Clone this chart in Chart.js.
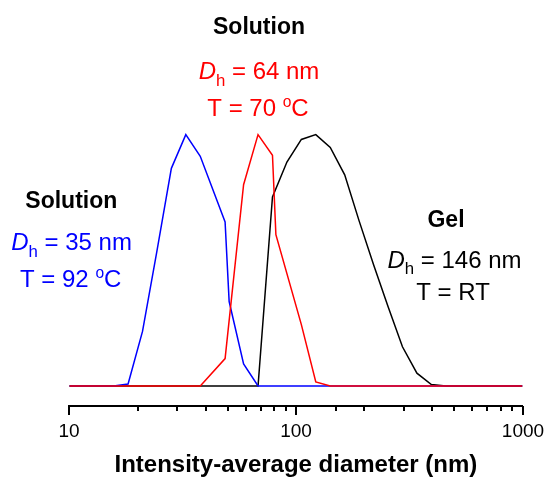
<!DOCTYPE html>
<html><head><meta charset="utf-8">
<script src="https://cdn.jsdelivr.net/npm/chart.js@4.4.1/dist/chart.umd.min.js"></script>
<style>html,body{margin:0;padding:0;background:#fff;}canvas{display:block;}</style>
</head><body>
<canvas id="c" width="548" height="477"></canvas>
<script>
// ---- data (diameter in nm, intensity normalised to peak = 100) ----
const blueSize = [10, 15.69, 18.17, 21.04, 24.36, 28.21, 32.67, 37.84, 48.7, 50.75, 58.77, 68.06, 1000];
const blueIntensity = [0, 0, 0.8, 21.7, 53.7, 86.6, 100, 91.4, 65.3, 33.6, 8.8, 0, 0];

const redSize = [10, 37.84, 48.7, 58.77, 68.06, 78.82, 81.6, 105.7, 122.4, 141.8, 1000];
const redIntensity = [0, 0, 10.9, 80.1, 100, 91.8, 60.2, 24.4, 1.6, 0, 0];

const blackSize = [10, 68.06, 78.82, 91.28, 105.7, 122.4, 141.8, 164.2, 190.1, 220.2, 255.0, 295.3, 342.0, 396.1, 458.7, 1000];
const blackIntensity = [0, 0, 75.2, 89.1, 98.1, 100, 94.9, 84.0, 65.7, 48.2, 31.6, 15.6, 5.1, 0.6, 0, 0];

const tickLabels = ['10', '100', '1000'];
const axisTitle = 'Intensity-average diameter (nm)';

const FONT = '"Liberation Sans", Arial, Helvetica, sans-serif';

function pts(xs, ys) { return xs.map((x, i) => ({x: x, y: ys[i]})); }

function drawRich(ctx, segs, cx, by, size, color) {
  let total = 0;
  const parts = segs.map(s => {
    const fs = size * (s.s || 1);
    const font = (s.st || 'normal') + ' ' + fs + 'px ' + FONT;
    ctx.font = font;
    const w = ctx.measureText(s.t).width;
    total += w;
    return {t: s.t, font: font, w: w, dy: (s.dy || 0) * size};
  });
  let x = cx - total / 2;
  ctx.fillStyle = color;
  ctx.textAlign = 'left';
  ctx.textBaseline = 'alphabetic';
  parts.forEach(p => { ctx.font = p.font; ctx.fillText(p.t, x, by + p.dy); x += p.w; });
}

const annotations = [
  {segs: [{t: 'Solution', st: 'bold'}], x: 259, y: 34, size: 23, color: '#000'},
  {segs: [{t: 'D', st: 'italic'}, {t: 'h', s: 0.7, dy: 0.28}, {t: ' = 64 nm'}], x: 259, y: 79, size: 24, color: '#ff0000'},
  {segs: [{t: 'T = 70 '}, {t: 'o', s: 0.65, dy: -0.38}, {t: 'C'}], x: 258, y: 116, size: 24, color: '#ff0000'},
  {segs: [{t: 'Solution', st: 'bold'}], x: 71.3, y: 208, size: 23, color: '#000'},
  {segs: [{t: 'D', st: 'italic'}, {t: 'h', s: 0.7, dy: 0.28}, {t: ' = 35 nm'}], x: 71.6, y: 250, size: 24, color: '#0000ff'},
  {segs: [{t: 'T = 92 '}, {t: 'o', s: 0.65, dy: -0.38}, {t: 'C'}], x: 70.7, y: 286.7, size: 24, color: '#0000ff'},
  {segs: [{t: 'Gel', st: 'bold'}], x: 446, y: 227.3, size: 23, color: '#000'},
  {segs: [{t: 'D', st: 'italic'}, {t: 'h', s: 0.7, dy: 0.28}, {t: ' = 146 nm'}], x: 454.5, y: 267.5, size: 24, color: '#000'},
  {segs: [{t: 'T = RT'}], x: 453, y: 300, size: 24, color: '#000'}
];

const decorPlugin = {
  id: 'decor',
  afterDraw(chart) {
    const ctx = chart.ctx;
    const xs = chart.scales.x;
    const axisY = xs.top;
    ctx.save();
    ctx.strokeStyle = '#000';
    xs.ticks.forEach(t => {
      const v = t.value;
      const lg = Math.log10(v);
      const major = Math.abs(lg - Math.round(lg)) < 1e-9;
      const px = Math.round(xs.getPixelForValue(v));
      ctx.lineWidth = 2;
      ctx.beginPath();
      ctx.moveTo(px, axisY);
      ctx.lineTo(px, axisY + (major ? 9 : 5));
      ctx.stroke();
      if (major) {
        const lbl = tickLabels.find(l => Number(l) === Math.round(v));
        if (lbl) {
          ctx.font = '19px ' + FONT;
          ctx.fillStyle = '#000';
          ctx.textAlign = 'center';
          ctx.textBaseline = 'alphabetic';
          ctx.fillText(lbl, px, 437);
        }
      }
    });
    ctx.font = 'bold 24px ' + FONT;
    ctx.fillStyle = '#000';
    ctx.textAlign = 'center';
    ctx.fillText(axisTitle, (xs.left + xs.right) / 2, 472);
    annotations.forEach(a => drawRich(ctx, a.segs, a.x, a.y, a.size, a.color));
    ctx.restore();
  }
};

const common = {pointRadius: 0, borderWidth: 1.5, tension: 0, fill: false};

new Chart(document.getElementById('c'), {
  type: 'line',
  data: {
    datasets: [
      Object.assign({label: 'Solution 70 °C', data: pts(redSize, redIntensity), borderColor: '#ff0000'}, common),
      Object.assign({label: 'Solution 92 °C', data: pts(blueSize, blueIntensity), borderColor: '#0000ff'}, common),
      Object.assign({label: 'Gel RT', data: pts(blackSize, blackIntensity), borderColor: '#000000'}, common)
    ]
  },
  options: {
    responsive: false,
    animation: false,
    devicePixelRatio: 1,
    layout: {padding: {left: 69.3, right: 25.5, top: 124.6, bottom: 0}},
    plugins: {legend: {display: false}, tooltip: {enabled: false}},
    scales: {
      x: {
        type: 'logarithmic', min: 10, max: 1000,
        grid: {display: false, drawTicks: false},
        border: {display: true, color: '#000', width: 2},
        ticks: {display: false},
        afterFit(scale) { scale.height = 71; }
      },
      y: {
        type: 'linear', min: -7.96, max: 104,
        display: false
      }
    }
  },
  plugins: [decorPlugin]
});
</script>
</body></html>
